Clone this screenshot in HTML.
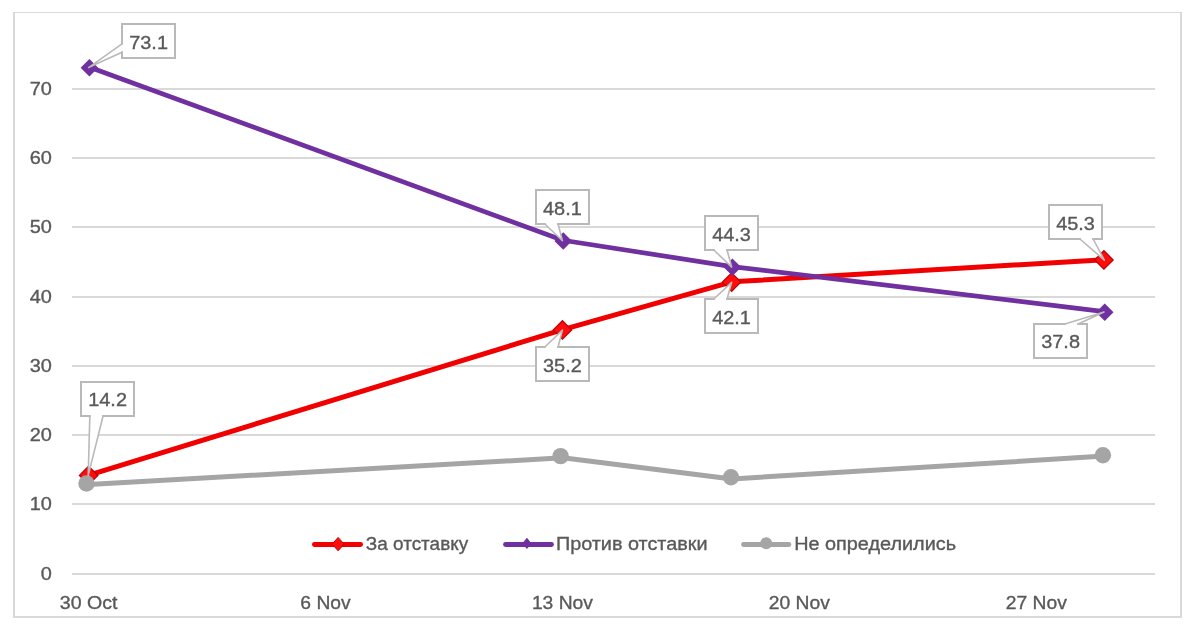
<!DOCTYPE html>
<html lang="ru"><head><meta charset="utf-8"><title>Chart</title>
<style>html,body{margin:0;padding:0;background:#fff}body{width:1194px;height:634px;overflow:hidden}svg{display:block}text{font-family:"Liberation Sans",sans-serif;fill:#595959;stroke:#595959;stroke-width:0.35px}</style>
</head><body>
<svg width="1194" height="634" viewBox="0 0 1194 634">
<rect x="0" y="0" width="1194" height="634" fill="#fff"/>
<g fill="#d9d9d9">
<rect x="13" y="12" width="1169" height="1"/>
<rect x="13" y="12" width="2" height="606"/>
<rect x="1180" y="12" width="2" height="606"/>
<rect x="13" y="616" width="1169" height="2"/>
<rect x="72" y="573" width="1083" height="2"/>
<rect x="72" y="503" width="1083" height="2"/>
<rect x="72" y="434" width="1083" height="2"/>
<rect x="72" y="365" width="1083" height="2"/>
<rect x="72" y="296" width="1083" height="2"/>
<rect x="72" y="226" width="1083" height="2"/>
<rect x="72" y="157" width="1083" height="2"/>
<rect x="72" y="88" width="1083" height="2"/>
</g>
<text transform="translate(51.8 580.10) scale(1.06 1)" font-size="18.8" text-anchor="end">0</text>
<text transform="translate(51.8 510.10) scale(1.06 1)" font-size="18.8" text-anchor="end">10</text>
<text transform="translate(51.8 441.10) scale(1.06 1)" font-size="18.8" text-anchor="end">20</text>
<text transform="translate(51.8 372.10) scale(1.06 1)" font-size="18.8" text-anchor="end">30</text>
<text transform="translate(51.8 303.10) scale(1.06 1)" font-size="18.8" text-anchor="end">40</text>
<text transform="translate(51.8 233.10) scale(1.06 1)" font-size="18.8" text-anchor="end">50</text>
<text transform="translate(51.8 164.10) scale(1.06 1)" font-size="18.8" text-anchor="end">60</text>
<text transform="translate(51.8 95.10) scale(1.06 1)" font-size="18.8" text-anchor="end">70</text>
<text transform="translate(88.62 608.6) scale(1.02515 1)" font-size="19.1" text-anchor="middle">30 Oct</text>
<text transform="translate(325.53 608.6) scale(1.01 1)" font-size="19.1" text-anchor="middle">6 Nov</text>
<text transform="translate(562.43 608.6) scale(1.01 1)" font-size="19.1" text-anchor="middle">13 Nov</text>
<text transform="translate(799.34 608.6) scale(1.01 1)" font-size="19.1" text-anchor="middle">20 Nov</text>
<text transform="translate(1036.25 608.6) scale(1.01 1)" font-size="19.1" text-anchor="middle">27 Nov</text>
<polyline points="88.92,475.11 562.73,329.61 731.95,281.81 1104.23,259.64" fill="none" stroke="#f00000" stroke-width="5.0" stroke-linejoin="round" stroke-linecap="round"/>
<polygon points="88.62,466.21 97.82,475.41 88.62,484.61 79.42,475.41" fill="#ff0d0d" stroke="#c00000" stroke-width="1.3" stroke-linejoin="miter"/>
<polygon points="562.43,320.71 571.63,329.91 562.43,339.11 553.23,329.91" fill="#ff0d0d" stroke="#c00000" stroke-width="1.3" stroke-linejoin="miter"/>
<polygon points="731.65,272.91 740.85,282.11 731.65,291.31 722.45,282.11" fill="#ff0d0d" stroke="#c00000" stroke-width="1.3" stroke-linejoin="miter"/>
<polygon points="1103.93,250.74 1113.13,259.94 1103.93,269.14 1094.73,259.94" fill="#ff0d0d" stroke="#c00000" stroke-width="1.3" stroke-linejoin="miter"/>
<polyline points="88.92,67.02 562.73,240.24 731.95,266.56 1104.23,311.60" fill="none" stroke="#7030a0" stroke-width="4.7" stroke-linejoin="round" stroke-linecap="round"/>
<polygon points="89.42,58.92 98.22,67.72 89.42,76.52 80.62,67.72" fill="#7030a0"/>
<polygon points="563.23,232.14 572.03,240.94 563.23,249.74 554.43,240.94" fill="#7030a0"/>
<polygon points="732.45,258.46 741.25,267.26 732.45,276.06 723.65,267.26" fill="#7030a0"/>
<polygon points="1104.73,303.50 1113.53,312.30 1104.73,321.10 1095.93,312.30" fill="#7030a0"/>
<polyline points="88.92,484.50 562.73,457.80 731.95,478.90 1104.23,456.10" fill="none" stroke="#a5a5a5" stroke-width="5.0" stroke-linejoin="round" stroke-linecap="round"/>
<circle cx="86.50" cy="483.50" r="8.2" fill="#a5a5a5"/>
<circle cx="560.60" cy="456.10" r="8.2" fill="#a5a5a5"/>
<circle cx="731.00" cy="477.20" r="8.2" fill="#a5a5a5"/>
<circle cx="1102.90" cy="455.20" r="8.2" fill="#a5a5a5"/>
<polygon points="122.00,52.33 122.00,58.00 175.00,58.00 175.00,24.00 122.00,24.00 122.00,43.83 88.60,67.60" fill="#fff"/>
<polyline points="122.00,43.83 88.60,67.60 122.00,52.33" fill="none" stroke="#b9b9b9" stroke-width="1.6" stroke-linejoin="round"/>
<polyline points="122.00,52.33 122.00,58.00 175.00,58.00 175.00,24.00 122.00,24.00 122.00,43.83" fill="none" stroke="#b9b9b9" stroke-width="2" stroke-linejoin="miter" stroke-linecap="square"/>
<text transform="translate(148.60 49.00) scale(1.06 1)" font-size="18.8" text-anchor="middle">73.1</text>
<polygon points="558.08,224.00 589.00,224.00 589.00,190.00 536.00,190.00 536.00,224.00 544.83,224.00 562.43,240.74" fill="#fff"/>
<polyline points="544.83,224.00 562.43,240.74 558.08,224.00" fill="none" stroke="#b9b9b9" stroke-width="1.6" stroke-linejoin="round"/>
<polyline points="558.08,224.00 589.00,224.00 589.00,190.00 536.00,190.00 536.00,224.00 544.83,224.00" fill="none" stroke="#b9b9b9" stroke-width="2" stroke-linejoin="miter" stroke-linecap="square"/>
<text transform="translate(562.40 214.85) scale(1.06 1)" font-size="18.8" text-anchor="middle">48.1</text>
<polygon points="727.08,250.00 758.00,250.00 758.00,216.00 705.00,216.00 705.00,250.00 713.83,250.00 731.65,267.06" fill="#fff"/>
<polyline points="713.83,250.00 731.65,267.06 727.08,250.00" fill="none" stroke="#b9b9b9" stroke-width="1.6" stroke-linejoin="round"/>
<polyline points="727.08,250.00 758.00,250.00 758.00,216.00 705.00,216.00 705.00,250.00 713.83,250.00" fill="none" stroke="#b9b9b9" stroke-width="2" stroke-linejoin="miter" stroke-linecap="square"/>
<text transform="translate(731.55 240.80) scale(1.06 1)" font-size="18.8" text-anchor="middle">44.3</text>
<polygon points="1093.17,239.00 1102.00,239.00 1102.00,205.00 1049.00,205.00 1049.00,239.00 1079.92,239.00 1104.33,260.14" fill="#fff"/>
<polyline points="1079.92,239.00 1104.33,260.14 1093.17,239.00" fill="none" stroke="#b9b9b9" stroke-width="1.6" stroke-linejoin="round"/>
<polyline points="1093.17,239.00 1102.00,239.00 1102.00,205.00 1049.00,205.00 1049.00,239.00 1079.92,239.00" fill="none" stroke="#b9b9b9" stroke-width="2" stroke-linejoin="miter" stroke-linecap="square"/>
<text transform="translate(1075.55 229.95) scale(1.06 1)" font-size="18.8" text-anchor="middle">45.3</text>
<polygon points="103.08,416.00 134.00,416.00 134.00,382.00 81.00,382.00 81.00,416.00 89.83,416.00 88.20,475.60" fill="#fff"/>
<polyline points="89.83,416.00 88.20,475.60 103.08,416.00" fill="none" stroke="#b9b9b9" stroke-width="1.6" stroke-linejoin="round"/>
<polyline points="103.08,416.00 134.00,416.00 134.00,382.00 81.00,382.00 81.00,416.00 89.83,416.00" fill="none" stroke="#b9b9b9" stroke-width="2" stroke-linejoin="miter" stroke-linecap="square"/>
<text transform="translate(107.60 406.00) scale(1.06 1)" font-size="18.8" text-anchor="middle">14.2</text>
<polygon points="558.08,347.00 589.00,347.00 589.00,381.00 536.00,381.00 536.00,347.00 544.83,347.00 562.43,330.11" fill="#fff"/>
<polyline points="544.83,347.00 562.43,330.11 558.08,347.00" fill="none" stroke="#b9b9b9" stroke-width="1.6" stroke-linejoin="round"/>
<polyline points="558.08,347.00 589.00,347.00 589.00,381.00 536.00,381.00 536.00,347.00 544.83,347.00" fill="none" stroke="#b9b9b9" stroke-width="2" stroke-linejoin="miter" stroke-linecap="square"/>
<text transform="translate(562.40 371.85) scale(1.06 1)" font-size="18.8" text-anchor="middle">35.2</text>
<polygon points="727.08,299.00 758.00,299.00 758.00,333.00 705.00,333.00 705.00,299.00 713.83,299.00 731.65,282.31" fill="#fff"/>
<polyline points="713.83,299.00 731.65,282.31 727.08,299.00" fill="none" stroke="#b9b9b9" stroke-width="1.6" stroke-linejoin="round"/>
<polyline points="727.08,299.00 758.00,299.00 758.00,333.00 705.00,333.00 705.00,299.00 713.83,299.00" fill="none" stroke="#b9b9b9" stroke-width="2" stroke-linejoin="miter" stroke-linecap="square"/>
<text transform="translate(731.55 324.00) scale(1.06 1)" font-size="18.8" text-anchor="middle">42.1</text>
<polygon points="1078.17,324.00 1087.00,324.00 1087.00,358.00 1034.00,358.00 1034.00,324.00 1064.92,324.00 1104.03,312.10" fill="#fff"/>
<polyline points="1064.92,324.00 1104.03,312.10 1078.17,324.00" fill="none" stroke="#b9b9b9" stroke-width="1.6" stroke-linejoin="round"/>
<polyline points="1078.17,324.00 1087.00,324.00 1087.00,358.00 1034.00,358.00 1034.00,324.00 1064.92,324.00" fill="none" stroke="#b9b9b9" stroke-width="2" stroke-linejoin="miter" stroke-linecap="square"/>
<text transform="translate(1060.60 348.00) scale(1.06 1)" font-size="18.8" text-anchor="middle">37.8</text>
<line x1="314.4" x2="360.6" y1="544.5" y2="544.5" stroke="#f00000" stroke-width="4.8" stroke-linecap="round"/>
<polygon points="338.1,537.4 344.1,544.1 338.1,550.8 332.1,544.1" fill="#ff0d0d" stroke="#c00000" stroke-width="1"/>
<text x="365.8" y="550.4" font-size="18.8" textLength="102.4" lengthAdjust="spacingAndGlyphs">За отставку</text>
<line x1="505.5" x2="551.5" y1="544.5" y2="544.5" stroke="#7030a0" stroke-width="4.8" stroke-linecap="round"/>
<polygon points="526.9,537.7 531.6,543.4 526.9,549.1 522.2,543.4" fill="#7030a0"/>
<text x="555.9" y="550.4" font-size="18.8" textLength="151.6" lengthAdjust="spacingAndGlyphs">Против отставки</text>
<line x1="743.5" x2="788.9" y1="544.5" y2="544.5" stroke="#a5a5a5" stroke-width="4.8" stroke-linecap="round"/>
<circle cx="766.2" cy="543.2" r="6" fill="#a5a5a5"/>
<text x="794.2" y="550.4" font-size="18.8" textLength="161.8" lengthAdjust="spacingAndGlyphs">Не определились</text>
</svg>
</body></html>
